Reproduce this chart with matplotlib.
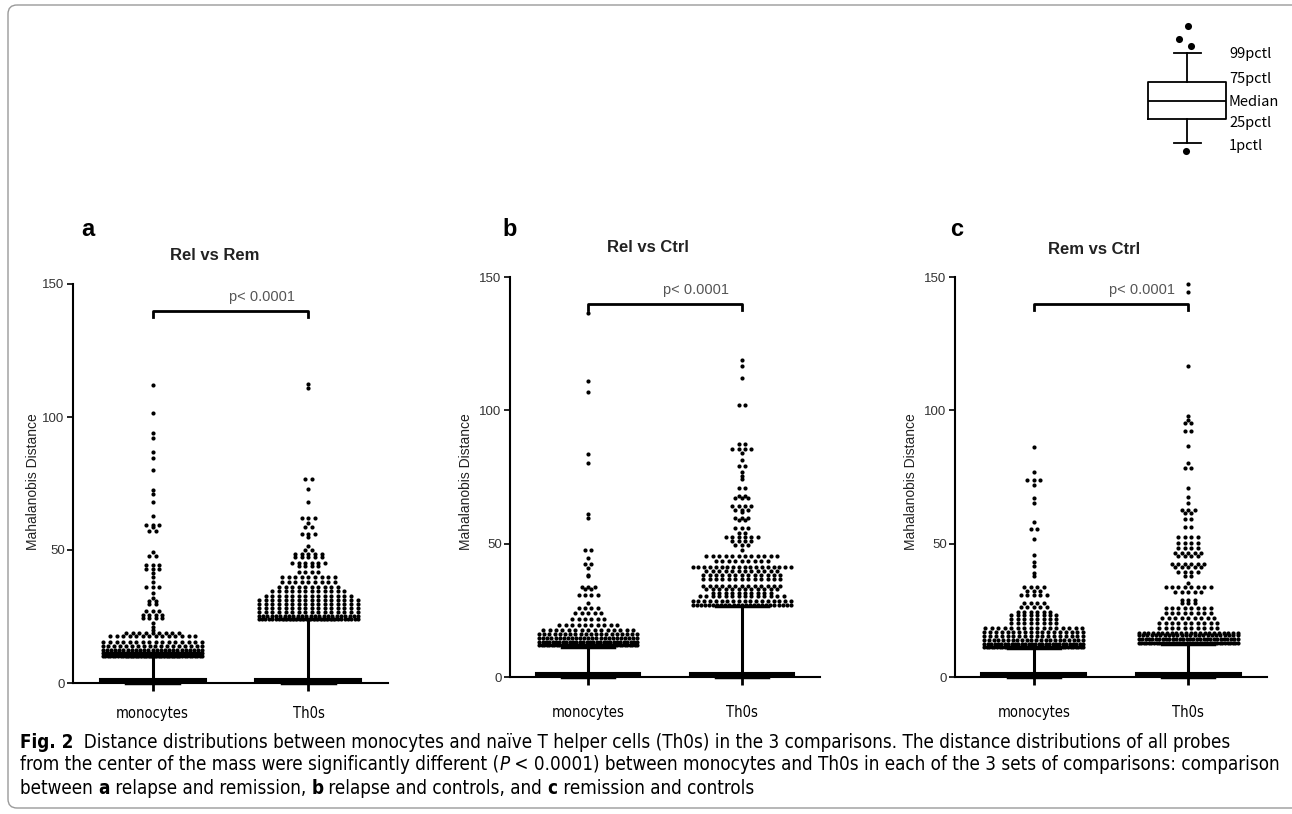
import numpy as np
import matplotlib
matplotlib.use('Agg')
import matplotlib.pyplot as plt
from matplotlib import font_manager
from matplotlib.font_manager import FontProperties
from matplotlib.patches import FancyBboxPatch

W, H = 1292, 814

# --- data: swarm rows (value, number of dots) ---
a_mono_vals = [112, 101.6, 94, 92.2, 87, 84.7, 80.2, 72.5, 70.9, 68.2, 62.9, 59.4, 58.8, 57.2,
               49.4, 47.9, 44.4, 42.8, 41.2, 39.8, 38.1, 36.2, 33.8, 31.9, 31, 29.8, 27.2, 25.6,
               24.4, 22.5, 21.2, 20, 18.8, 17.5, 15.6, 13.8, 12.5, 11.2, 10.3]
a_mono_n = [1, 1, 1, 1, 1, 1, 1, 1, 1, 1, 1, 3, 1, 2,
            1, 2, 3, 3, 1, 1, 1, 3, 1, 1, 2, 2, 3, 4,
            4, 1, 1, 1, 9, 14, 16, 18, 25, 35, 40]
a_th_vals = [112.5, 111, 76.6, 72.9, 68.1, 62.2, 60, 58.8, 56.2, 55, 51.6, 50, 48.5, 47.5,
             45, 43.8, 41.9, 40, 38.1, 36.2, 34.4, 32.8, 31.2, 29.8, 28.1, 26.6, 25.2, 24.2]
a_th_n = [1, 1, 2, 1, 1, 3, 1, 2, 3, 1, 1, 2, 5, 5,
          6, 4, 4, 9, 9, 10, 12, 14, 16, 16, 16, 16, 24, 30]

b_mono_vals = [136.4, 111, 106.7, 83.8, 80.3, 61.3, 59.7, 47.5, 44.7, 42.2, 41, 38.3, 37.8,
               33.8, 33, 30.9, 27.7, 25.9, 24, 21.7, 19.6, 17.7, 16.1, 14.6, 13.3, 12.1]
b_mono_n = [1, 1, 1, 1, 1, 1, 1, 2, 1, 2, 1, 1, 1,
            3, 2, 4, 1, 4, 5, 6, 10, 15, 20, 25, 30, 40]
b_th_vals = [119, 116.6, 112.2, 102, 87.4, 85.5, 84, 81.4, 79.3, 77, 75.5, 74.2, 70.7, 68, 67,
             64.2, 62.7, 61.7, 59.8, 58.9, 56, 54.1, 52.6, 51, 49.4, 47.6, 45.4, 43.5, 41.2,
             39.7, 38.2, 36.6, 34.3, 33, 31.5, 30.3, 28.6, 27.1]
b_th_n = [1, 1, 1, 2, 2, 4, 1, 1, 2, 1, 1, 1, 2, 2, 3,
          4, 3, 1, 3, 2, 3, 2, 6, 4, 3, 1, 12, 9, 18,
          12, 13, 13, 13, 12, 10, 14, 18, 25]

c_mono_vals = [86.1, 76.8, 74, 72.1, 67.1, 65.2, 58.3, 55.4, 51.7, 45.8, 43.3, 41.7, 38.9, 37.7,
               33.9, 32.4, 30.8, 27.7, 26.4, 24.5, 23.3, 21.7, 20.2, 18.3, 17, 15.4, 13.9, 12.4, 11.1]
c_mono_n = [1, 1, 3, 1, 1, 1, 1, 2, 1, 1, 1, 1, 1, 1,
            4, 3, 5, 4, 5, 6, 8, 8, 8, 16, 18, 18, 22, 30, 40]
c_th_vals = [147.2, 144.3, 116.5, 97.7, 96.5, 95.2, 92.1, 86.5, 80.2, 78.3, 70.8, 67.5, 65.4,
             62.7, 61.5, 59.2, 56.4, 52.4, 50.3, 48.3, 46.4, 45.2, 42.4, 41.2, 39.5, 37.9, 35.2,
             33.7, 32, 28.9, 27.9, 25.8, 23.9, 22, 20.2, 18.3, 16.6, 15.8, 14.1, 12.6]
c_th_n = [1, 1, 1, 1, 1, 2, 2, 1, 1, 2, 1, 1, 1,
          3, 2, 2, 2, 4, 4, 4, 5, 4, 6, 5, 4, 2, 1,
          8, 5, 3, 3, 8, 8, 9, 10, 10, 22, 24, 30, 40]

# 99th percentile (whisker top) per group
a_p99 = [10, 24]
b_p99 = [11.4, 26.8]
c_p99 = [10.8, 12.3]

groups = ['monocytes', 'Th0s']
titles = ['Rel vs Rem', 'Rel vs Ctrl', 'Rem vs Ctrl']
letters = ['a', 'b', 'c']
yticks = [0, 50, 100, 150]
pval = 'p< 0.0001'

SANS = 'Liberation Sans'


# look for a narrow / condensed sans face for caption text (Myriad-like in the source)
def find_narrow():
    fams = {}
    for f in font_manager.fontManager.ttflist:
        nm = f.name.lower()
        st = str(f.stretch).lower()
        if 'serif' in nm or 'mono' in nm:
            continue
        if 'narrow' in nm or 'condensed' in nm or 'condensed' in st:
            wt = 'bold' if str(f.weight) in ('bold', '700') else (
                'normal' if str(f.weight) in ('normal', '400', 'regular', 'book') else None)
            if wt is None:
                continue
            fams.setdefault(f.name, {})[(f.style, wt)] = f.fname
    best = None
    for nm, d in fams.items():
        if ('normal', 'normal') in d:
            if best is None or len(d) > len(fams[best]):
                best = nm
    return fams[best] if best else None


narrow = find_narrow()


def nprops(size, weight='normal', style='normal'):
    if narrow:
        fn = narrow.get((style, weight)) or narrow.get(('oblique', weight)) \
            or narrow.get(('normal', weight)) or narrow[('normal', 'normal')]
        return FontProperties(fname=fn, size=size)
    return FontProperties(family='DejaVu Sans', size=size, weight=weight, style=style)


fig = plt.figure(figsize=(W / 100, H / 100), dpi=100)
renderer = fig.canvas.get_renderer()


def px_axes(l, t, r, b):
    return fig.add_axes([l / W, (H - b) / H, (r - l) / W, (b - t) / H])


def swarm(ax, pos, vals, counts, step=0.042, maxw=0.64):
    for v, n in zip(vals, counts):
        s = min(step, maxw / (n - 1)) if n > 1 else 0
        xs = pos + (np.arange(n) - (n - 1) / 2) * s
        ax.scatter(xs, [v] * n, s=9, color='k', lw=0, zorder=4, clip_on=False)


def fit_size(text, width, weight='normal'):
    t = fig.text(0, 0, text, fontproperties=nprops(10, weight))
    w = t.get_window_extent(renderer).width
    t.remove()
    return 10 * width / w


cat_size = fit_size('monocytes', 72)


def panel(ax, rows, p99, xlab_pad):
    stats = []
    for w in p99:
        stats.append(dict(med=0.9, q1=0.3, q3=1.6, whislo=0.0, whishi=w, fliers=[]))
    art = ax.bxp(stats, positions=[0, 1], widths=0.68, capwidths=0.34, patch_artist=True,
                 boxprops=dict(facecolor='k', edgecolor='k', lw=1.5),
                 whiskerprops=dict(color='k', lw=2.2), capprops=dict(color='k', lw=2.5),
                 medianprops=dict(color='k', lw=1.5), manage_ticks=False)
    for k in art:
        for a in art[k]:
            a.set_clip_on(False)
    for i, (vals, n) in enumerate(rows):
        swarm(ax, i, vals, n)
    ax.set_xlim(-0.51, 1.51)
    ax.set_ylim(0, 150)
    ax.set_yticks(yticks)
    ax.set_xticks([0, 1])
    ax.set_xticklabels(groups, fontproperties=nprops(cat_size))
    ax.tick_params(axis='y', length=4, width=1.2, labelsize=9.5, labelcolor='#333', pad=2)
    ax.tick_params(axis='x', length=6, width=2, pad=xlab_pad)
    for lab in ax.get_yticklabels():
        lab.set_family(SANS)
    for s in ['top', 'right']:
        ax.spines[s].set_visible(False)
    for s in ['left', 'bottom']:
        ax.spines[s].set_linewidth(1.5)
    # significance bracket
    ax.plot([0, 0, 1, 1], [137.5, 140, 140, 137.5], color='k', lw=2, clip_on=False)
    ax.text(0.7, 145, pval, ha='center', va='center', fontsize=10.5, color='#555', family=SANS)


axA = px_axes(73, 284, 388, 683)
axB = px_axes(510, 277, 820, 677)
axC = px_axes(955, 277, 1267, 677)
panel(axA, [(a_mono_vals, a_mono_n), (a_th_vals, a_th_n)], a_p99, 10.5)
panel(axB, [(b_mono_vals, b_mono_n), (b_th_vals, b_th_n)], b_p99, 14.5)
panel(axC, [(c_mono_vals, c_mono_n), (c_th_vals, c_th_n)], c_p99, 14.5)

# overlay in pixel coords for frame, labels, legend and caption
ov = fig.add_axes([0, 0, 1, 1])
ov.set_xlim(0, W)
ov.set_ylim(H, 0)
ov.axis('off')

ov.add_patch(FancyBboxPatch((8, 5), 1310, 803, boxstyle='round,pad=0,rounding_size=9',
                            fill=False, ec='#9a9a9a', lw=1))

for lx, ly, ttx, tty, ylx, letter, title in [(88, 229, 215, 255, 33, 'a', titles[0]),
                                              (510, 229, 648, 247, 466, 'b', titles[1]),
                                              (957, 229, 1094, 250, 911, 'c', titles[2])]:
    ov.text(lx, ly, letter, fontsize=17, weight='bold', family=SANS, ha='center', va='center')
    ov.text(ttx, tty, title, fontsize=12, weight='bold', family=SANS, ha='center', va='center',
            color='#222')
    ov.text(ylx, 482, 'Mahalanobis Distance', fontsize=10, family=SANS, rotation=90,
            ha='center', va='center', color='#222')

# box legend (schematic)
ov.bxp([dict(med=101, q1=119, q3=82, whislo=143, whishi=53, fliers=[])], positions=[1187],
       widths=78, capwidths=27, manage_ticks=False,
       boxprops=dict(color='k', lw=1.3), whiskerprops=dict(color='k', lw=1.3),
       capprops=dict(color='k', lw=1.3), medianprops=dict(color='k', lw=1.3))
ov.scatter([1188, 1179, 1191, 1186], [26, 39, 46, 151], s=26, color='k', lw=0)
leg_font = ['Noto Sans CJK JP', 'DejaVu Sans']
for txt, yy in [('99pctl', 54), ('75pctl', 79), ('Median', 102), ('25pctl', 123), ('1pctl', 146)]:
    ov.text(1229, yy, txt, fontsize=10.5, family=leg_font, ha='left', va='center')


# caption with mixed weights
def text_w(s, fp):
    t = ov.text(0, 0, s + '|', fontproperties=fp)
    b = ov.text(0, 0, '|', fontproperties=fp)
    w = t.get_window_extent(renderer).width - b.get_window_extent(renderer).width
    t.remove()
    b.remove()
    return w


N, B, I = ('normal', 'normal'), ('bold', 'normal'), ('normal', 'italic')
line1 = [('Fig. 2', *B), ('  Distance distributions between monocytes and naïve T helper cells (Th0s) '
                          'in the 3 comparisons. The distance distributions of all probes', *N)]
line2 = [('from the center of the mass were significantly different (', *N), ('P', *I),
         (' < 0.0001) between monocytes and Th0s in each of the 3 sets of comparisons: comparison', *N)]
line3 = [('between ', *N), ('a', *B), (' relapse and remission, ', *N), ('b', *B),
         (' relapse and controls, and ', *N), ('c', *B), (' remission and controls', *N)]


def line_w(parts, size):
    return sum(text_w(s, nprops(size, wt, st)) for s, wt, st in parts)


cap_size = min(10 * 1236 / line_w(line1, 10), 10 * 1262 / line_w(line2, 10))


def runs(x, y, parts, size):
    for s, wt, st in parts:
        fp = nprops(size, wt, st)
        ov.text(x, y, s, ha='left', va='center', fontproperties=fp)
        x += text_w(s, fp)


runs(20, 742, line1, cap_size)
runs(20, 765, line2, cap_size)
runs(20, 788, line3, cap_size)

fig.savefig('out.png', dpi=100)
